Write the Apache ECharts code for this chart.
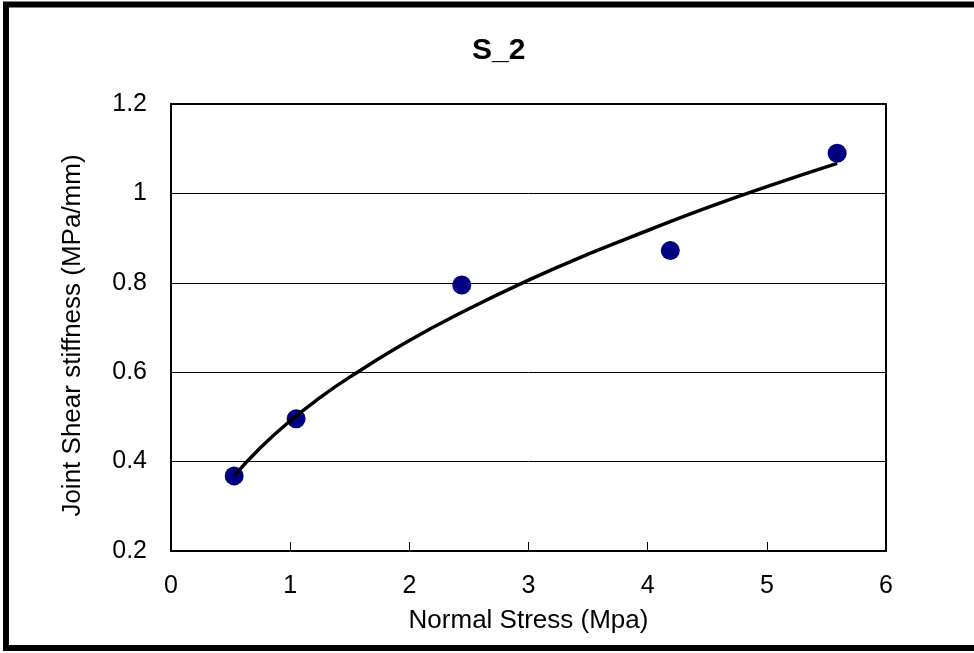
<!DOCTYPE html>
<html>
<head>
<meta charset="utf-8">
<script src="https://cdn.jsdelivr.net/npm/echarts@6/dist/echarts.min.js"></script>
<style>
html,body{margin:0;padding:0;background:#fff;}
#c{width:974px;height:653px;}
</style>
</head>
<body>
<div id="c"></div>
<script>
// Measured data points
const stressX = [0.53, 1.05, 2.44, 4.19, 5.59];
const stiffnessY = [0.368, 0.496, 0.795, 0.872, 1.09];
// Trend curve
const trendX = [0.53, 0.75, 1.0, 1.25, 1.5, 2.0, 2.5, 3.0, 3.5, 4.0, 4.5, 5.0, 5.59];
const trendY = [0.368, 0.431, 0.491, 0.543, 0.589, 0.671, 0.742, 0.806, 0.864, 0.917, 0.968, 1.015, 1.067];
const titleText = 'S_2';
const xName = 'Normal Stress (Mpa)';
const yName = 'Joint Shear stiffness (MPa/mm)';

const font = '"Liberation Sans", Arial, sans-serif';
const chart = echarts.init(document.getElementById('c'));
chart.setOption({
  backgroundColor: '#fff',
  animation: false,
  title: {
    text: titleText, left: 467, top: 31,
    textStyle: {fontFamily: font, fontSize: 30, fontWeight: 'bold', color: '#000', lineHeight: 30}
  },
  graphic: [{
    type: 'rect', silent: true, z: 100,
    shape: {x: 6, y: 4.5, width: 1000, height: 643.5},
    style: {fill: 'none', stroke: '#000', lineWidth: 6}
  }],
  grid: {left: 171, top: 104, right: 88, bottom: 102, show: true, borderColor: '#000', borderWidth: 2, backgroundColor: '#fff'},
  xAxis: {
    type: 'value', min: 0, max: 6, interval: 1,
    name: xName, nameLocation: 'middle', nameGap: 57,
    nameTextStyle: {fontFamily: font, fontSize: 26, color: '#000'},
    axisLine: {show: true, lineStyle: {color: '#000', width: 2}},
    axisTick: {show: true, inside: true, length: 9, lineStyle: {color: '#000', width: 1}},
    axisLabel: {fontFamily: font, fontSize: 25, color: '#000', margin: 23},
    splitLine: {show: false}
  },
  yAxis: {
    type: 'value', min: 0.2, max: 1.2, interval: 0.2,
    name: yName, nameLocation: 'middle', nameGap: 85, nameRotate: 90,
    nameTextStyle: {fontFamily: font, fontSize: 26, color: '#000', padding: [0, 16, 0, 0]},
    axisLine: {show: true, lineStyle: {color: '#000', width: 2}},
    axisTick: {show: true, inside: true, length: 9, lineStyle: {color: '#000', width: 1}},
    axisLabel: {fontFamily: font, fontSize: 25, color: '#000', margin: 24,
      formatter: v => String(Math.round(v * 10) / 10)},
    splitLine: {show: true, lineStyle: {color: '#000', width: 1}}
  },
  series: [{
    type: 'scatter', z: 2,
    data: stressX.map((x, i) => [x, stiffnessY[i]]),
    symbol: 'circle', symbolSize: 19,
    itemStyle: {color: '#000080', opacity: 1}
  }, {
    type: 'line', z: 3, smooth: true, showSymbol: false, symbol: 'none',
    data: trendX.map((x, i) => [x, trendY[i]]),
    lineStyle: {color: '#000', width: 3.5}
  }]
});
</script>
</body>
</html>
